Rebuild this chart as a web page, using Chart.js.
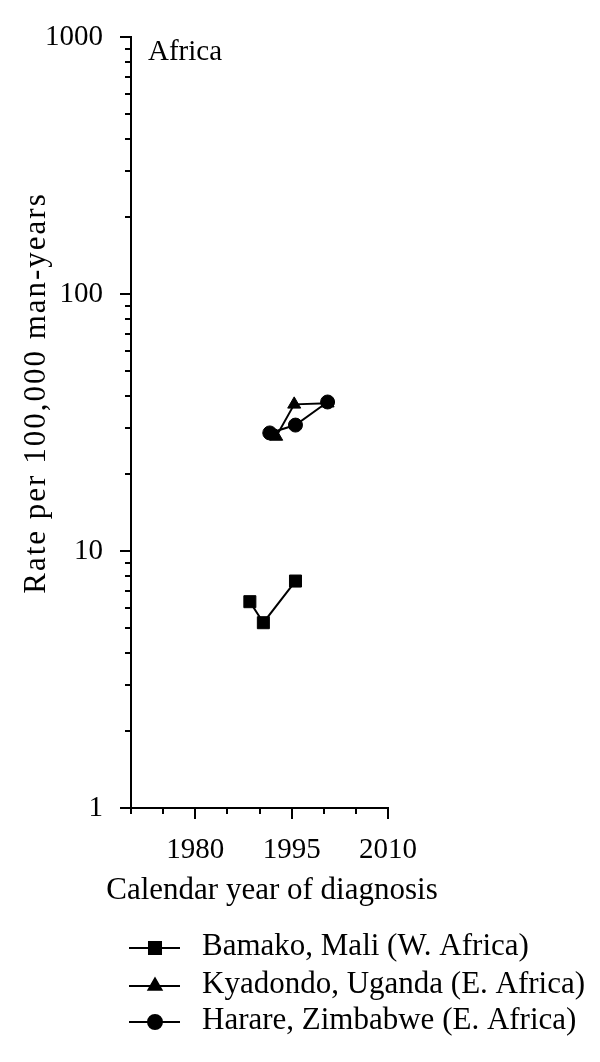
<!DOCTYPE html>
<html>
<head>
<meta charset="utf-8">
<script src="https://cdn.jsdelivr.net/npm/chart.js"></script>
<style>
    body { margin: 0; background: #fff; }
    .chart-box { width: 600px; height: 1062px; position: relative; }
</style>
</head>
<body>
<div class="chart-box"><canvas id="rateChart"></canvas></div>
<script>
// 데이터
const bamakoYears = [1988.5, 1990.6, 1995.6];
const bamakoRates = [6.35, 5.26, 7.64];
const kyadondoYears = [1992.6, 1995.4, 2000.6];
const kyadondoRates = [27.9, 37.2, 37.6];
const harareYears = [1991.6, 1995.6, 2000.6];
const harareRates = [28.8, 30.9, 38.0];

const seriesNames = [
    'Bamako, Mali (W. Africa)',
    'Kyadondo, Uganda (E. Africa)',
    'Harare, Zimbabwe (E. Africa)'
];

const xTicks = [1970, 1975, 1980, 1985, 1990, 1995, 2000, 2005, 2010];
const xTickLabels = [1980, 1995, 2010];
const yTicks = [1, 2, 3, 4, 5, 6, 7, 8, 9, 10, 20, 30, 40, 50, 60, 70, 80, 90,
    100, 200, 300, 400, 500, 600, 700, 800, 900, 1000];
const yTickLabels = [1, 10, 100, 1000];

const FONT = "'Liberation Serif', 'Times New Roman', serif";

function toPoints(xs, ys) {
    return xs.map((x, i) => ({ x: x, y: ys[i] }));
}

// 눈금, 축 제목, 범례
const decorPlugin = {
    id: 'decor',
    afterDraw(chart) {
        const ctx = chart.ctx;
        const xs = chart.scales.x;
        const ys = chart.scales.y;
        const area = chart.chartArea;

        ctx.save();
        ctx.strokeStyle = '#000';
        ctx.lineWidth = 2;
        ctx.beginPath();
        yTicks.forEach(v => {
            const py = Math.round(ys.getPixelForValue(v));
            const len = yTickLabels.includes(v) ? 11 : 6;
            ctx.moveTo(area.left - len, py);
            ctx.lineTo(area.left, py);
        });
        xTicks.forEach(v => {
            const px = Math.round(xs.getPixelForValue(v));
            const len = xTickLabels.includes(v) ? 11 : 6;
            ctx.moveTo(px, area.bottom);
            ctx.lineTo(px, area.bottom + len);
        });
        ctx.stroke();

        ctx.fillStyle = '#000';
        ctx.textBaseline = 'alphabetic';

        // 패널 제목
        ctx.font = '29px ' + FONT;
        ctx.textAlign = 'left';
        ctx.fillText('Africa', 148, 60);

        // x축 제목
        ctx.font = '31px ' + FONT;
        ctx.textAlign = 'center';
        ctx.fillText('Calendar year of diagnosis', 272, 899);

        // y축 제목
        ctx.save();
        ctx.translate(45, 393);
        ctx.rotate(-Math.PI / 2);
        ctx.font = '31px ' + FONT;
        if ('letterSpacing' in ctx) ctx.letterSpacing = '2px';
        ctx.textAlign = 'center';
        ctx.fillText('Rate per 100,000 man-years', 0, 0);
        ctx.restore();

        // 범례
        const rowY = [948, 986, 1022];
        chart.data.datasets.forEach((ds, i) => {
            const y = rowY[i];
            ctx.beginPath();
            ctx.lineWidth = 2;
            ctx.moveTo(129, y);
            ctx.lineTo(180, y);
            ctx.stroke();
            ctx.fillStyle = '#000';
            ctx.strokeStyle = '#000';
            Chart.helpers.drawPoint(ctx, {
                pointStyle: ds.pointStyle,
                radius: ds.pointRadius,
                rotation: 0,
                borderWidth: 1
            }, 155, y);
            ctx.font = '31px ' + FONT;
            ctx.textAlign = 'left';
            ctx.fillText(seriesNames[i], 202, y + 7);
        });
        ctx.restore();
    }
};

document.addEventListener('DOMContentLoaded', function() {
    const canvas = document.getElementById('rateChart');

    const common = {
        borderColor: '#000',
        backgroundColor: '#000',
        pointBackgroundColor: '#000',
        pointBorderColor: '#000',
        pointBorderWidth: 1,
        borderWidth: 2,
        fill: false,
        tension: 0
    };

    new Chart(canvas, {
        type: 'line',
        data: {
            datasets: [
                Object.assign({
                    label: seriesNames[0],
                    data: toPoints(bamakoYears, bamakoRates),
                    pointStyle: 'rect',
                    pointRadius: 8.5,
                    order: 2
                }, common),
                Object.assign({
                    label: seriesNames[1],
                    data: toPoints(kyadondoYears, kyadondoRates),
                    pointStyle: 'triangle',
                    pointRadius: 7.5,
                    order: 1
                }, common),
                Object.assign({
                    label: seriesNames[2],
                    data: toPoints(harareYears, harareRates),
                    pointStyle: 'circle',
                    pointRadius: 7,
                    order: 0
                }, common)
            ]
        },
        options: {
            responsive: true,
            maintainAspectRatio: false,
            animation: false,
            layout: {
                padding: { left: 0, right: 212, top: 37, bottom: 194 }
            },
            plugins: {
                legend: { display: false },
                tooltip: { enabled: false }
            },
            scales: {
                x: {
                    type: 'linear',
                    min: 1970,
                    max: 2010,
                    afterBuildTicks: axis => {
                        axis.ticks = xTicks.map(v => ({ value: v }));
                    },
                    afterFit: axis => {
                        axis.height = 60;
                        axis.paddingLeft = 0;
                        axis.paddingRight = 0;
                    },
                    grid: { display: false, drawTicks: false },
                    border: { display: true, color: '#000', width: 2 },
                    ticks: {
                        autoSkip: false,
                        maxRotation: 0,
                        padding: 25,
                        color: '#000',
                        font: { family: FONT, size: 29 },
                        callback: v => xTickLabels.includes(v) ? String(v) : ''
                    }
                },
                y: {
                    type: 'logarithmic',
                    min: 1,
                    max: 1000,
                    afterBuildTicks: axis => {
                        axis.ticks = yTicks.map(v => ({ value: v }));
                    },
                    afterFit: axis => {
                        axis.width = 131;
                        // 눈금 여백이 위쪽 여백을 늘리지 않도록
                        axis.paddingTop = 0;
                        axis.paddingBottom = 0;
                    },
                    grid: { display: false, drawTicks: false },
                    border: { display: true, color: '#000', width: 2 },
                    ticks: {
                        autoSkip: false,
                        padding: 28,
                        color: '#000',
                        font: { family: FONT, size: 29 },
                        callback: v => yTickLabels.includes(v) ? String(v) : ''
                    }
                }
            }
        },
        plugins: [decorPlugin]
    });
});
</script>
</body>
</html>
